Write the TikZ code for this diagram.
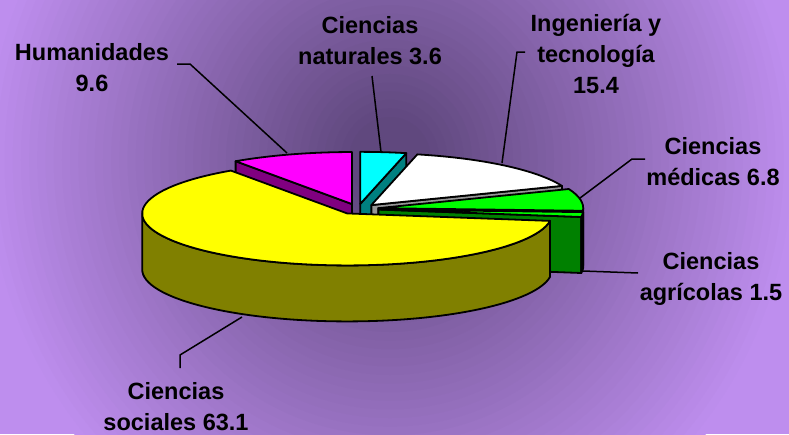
\documentclass[tikz,border=0pt]{standalone}
\usepackage{fontspec}
\setmainfont{Liberation Sans}
\usetikzlibrary{calc}

\definecolor{bgdark}{RGB}{96,72,126}
\definecolor{bglight}{RGB}{190,142,238}
\definecolor{hummag}{RGB}{255,0,255}
\definecolor{humside}{RGB}{128,0,128}
\definecolor{natcyan}{RGB}{0,255,255}
\definecolor{natside}{RGB}{0,128,128}
\definecolor{ingside}{RGB}{150,150,150}
\definecolor{medlime}{RGB}{0,255,0}
\definecolor{medside}{RGB}{0,128,0}
\definecolor{socyellow}{RGB}{255,255,0}
\definecolor{socside}{RGB}{128,128,0}

% top, outer wall and cut face of one slice (apex, angles from 12 o'clock, clockwise)
\newcommand{\slicetop}[4]{%
  \filldraw[face, fill=#4] (#1) -- ($(#1)+({205*sin(#2)},{-52*cos(#2)})$)
    arc[start angle=#2-90, end angle=#3-90, x radius=205, y radius=52] -- cycle;}
\newcommand{\slicewall}[4]{%
  \filldraw[face, fill=#4] ($(#1)+({205*sin(#2)},{-52*cos(#2)})$)
    arc[start angle=#2-90, end angle=#3-90, x radius=205, y radius=52] -- ++(0,56)
    arc[start angle=#3-90, end angle=#2-90, x radius=205, y radius=52] -- cycle;}
\newcommand{\sliceside}[3]{%
  \filldraw[face, fill=#3] (#1) -- ($(#1)+({205*sin(#2)},{-52*cos(#2)})$) -- ++(0,56)
    -- ($(#1)+(0,56)$) -- cycle;}

\begin{document}
\begin{tikzpicture}[x=1pt, y=-1pt]
    \tikzstyle{face} = [draw=black, line width=1.8pt, line join=round]
    \tikzstyle{lbl} = [font=\fontsize{23.5}{31}\selectfont\bfseries, align=center, anchor=north, inner sep=0pt]
    \tikzstyle{leader} = [line width=1.5pt]

    \useasboundingbox (0,0) rectangle (789,434);
    % background glow, light at the edges, dark behind the pie
    \begin{scope}
      \clip (0,0) rectangle (789,434);
      \fill[bglight] (0,0) rectangle (789,434);
      \foreach \i in {0,...,45}
        \fill[bgdark!\fpeval{\i*100/45}!bglight]
          (390,160) ellipse [x radius={410*(1-\i/50)}, y radius={430*(1-\i/50)}];
    \end{scope}

    % apex of each exploded slice
    \coordinate (ctr) at (358,209);
    \coordinate (hum) at ($(ctr)+({20.5*sin(342.72)},{-5.2*cos(342.72)})$);
    \coordinate (nat) at ($(ctr)+({20.5*sin(6.48)},{-5.2*cos(6.48)})$);
    \coordinate (ing) at ($(ctr)+({20.5*sin(40.68)},{-5.2*cos(40.68)})$);
    \coordinate (med) at ($(ctr)+({20.5*sin(80.64)},{-5.2*cos(80.64)})$);
    \coordinate (agr) at ($(ctr)+({20.5*sin(95.58)},{-5.2*cos(95.58)})$);
    \coordinate (soc) at ($(ctr)+({20.5*sin(211.86)},{-5.2*cos(211.86)})$);

    % back to front
    \sliceside{hum}{325.44}{humside}
    \slicetop{hum}{325.44}{360}{hummag}
    \sliceside{nat}{12.96}{natside}
    \slicetop{nat}{0}{12.96}{natcyan}
    \sliceside{ing}{68.4}{ingside}
    \slicetop{ing}{12.96}{68.4}{white}
    \sliceside{med}{92.88}{medside}
    \slicewall{med}{90}{92.88}{medside}
    \slicetop{med}{68.4}{92.88}{medlime}
    \sliceside{agr}{98.28}{medside}
    \slicewall{agr}{92.88}{98.28}{medside}
    \slicetop{agr}{92.88}{98.28}{medlime}
    \slicewall{soc}{98.28}{270}{socside}
    \slicetop{soc}{98.28}{325.44}{socyellow}

    % labels
    \node[lbl] (humlbl) at (92,43) {Humanidades\\9.6};
    \node[lbl] (natlbl) at (370,16) {Ciencias\\naturales 3.6};
    \node[lbl] (inglbl) at (596,14) {Ingeniería y\\tecnología\\15.4};
    \node[lbl] (medlbl) at (713,137) {Ciencias\\médicas 6.8};
    \node[lbl] (agrlbl) at (711,252) {Ciencias\\agrícolas 1.5};
    \node[lbl] (soclbl) at (176,382) {Ciencias\\sociales 63.1};

    % leader lines
    \coordinate (humtip) at (287,153);
    \coordinate (nattip) at (381,152);
    \coordinate (ingtip) at (502,163);
    \coordinate (medtip) at (580,198);
    \coordinate (agrtip) at (583,271);
    \coordinate (soctip) at (242,317);
    \draw[leader] (177,64) -- (190,64) -- (humtip);
    \draw[leader] (372,76) -- (nattip);
    \draw[leader] (525,52) -- (517,52) -- (ingtip);
    \draw[leader] (645,159) -- (632,159) -- (medtip);
    \draw[leader] (638,273) -- (agrtip);
    \draw[leader] (180,368) -- (180,355) -- (soctip);
\end{tikzpicture}
\end{document}
